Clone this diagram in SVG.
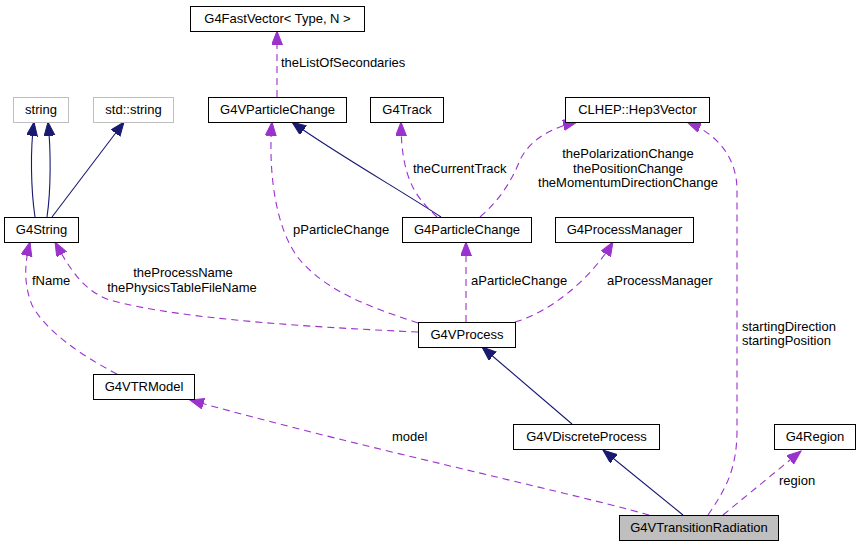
<svg xmlns="http://www.w3.org/2000/svg" width="860" height="547" viewBox="0 0 860 547">
<style>
text{font-family:"Liberation Sans",Arial,sans-serif;font-size:13px;fill:#000}
.nt{text-anchor:middle}
.box{fill:#fff;stroke:#000;stroke-width:1}
.gbox{fill:#fff;stroke:#bfbfbf;stroke-width:1}
.cur{fill:#bfbfbf;stroke:#000;stroke-width:1}
.inh{fill:none;stroke:#191970;stroke-width:1.1;marker-end:url(#an)}
.use{fill:none;stroke:#9a32cd;stroke-width:1.1;stroke-dasharray:7,5;marker-end:url(#ap)}
</style>
<defs>
<marker id="an" markerUnits="userSpaceOnUse" markerWidth="15" markerHeight="12" refX="14" refY="5.5" orient="auto"><polygon points="0,0 14,5.5 0,11" fill="#191970" stroke="#191970"/></marker>
<marker id="ap" markerUnits="userSpaceOnUse" markerWidth="15" markerHeight="12" refX="14" refY="5.5" orient="auto"><polygon points="0,0 14,5.5 0,11" fill="#9a32cd" stroke="#9a32cd"/></marker>
</defs>
<rect width="860" height="547" fill="#fff"/>
<g id="edges">
<path class="inh" d="M35,217 C31,190 30,150 34,122"/>
<path class="inh" d="M47,217 C51,190 51,150 48,122"/>
<path class="inh" d="M52,217 L124,122"/>
<path class="inh" d="M441,217 C410,196 330,150 292,122"/>
<path class="use" d="M277,97 L277,31"/>
<path class="use" d="M437,217 C420,200 401,185 401,122"/>
<path class="use" d="M480,217 C500,200 512,180 520,160 C530,140 550,128 577,122"/>
<path class="use" d="M418,323 C380,310 330,295 300,260 C275,230 268,170 272,122"/>
<path class="use" d="M418,332 C330,328 180,320 110,300 C85,292 70,270 55,242"/>
<path class="use" d="M117,374 C80,355 45,330 32,305 C24,285 24,265 30,242"/>
<path class="use" d="M466,322 L466,242"/>
<path class="use" d="M515,322 C550,312 590,280 613,242"/>
<path class="inh" d="M572,424 L482,347"/>
<path class="inh" d="M683,515 L603,450"/>
<path class="use" d="M708,515 C725,490 737,470 737,430 L737,190 C737,160 720,135 687,122"/>
<path class="use" d="M723,515 L801,451"/>
<path class="use" d="M649,515 C560,490 350,445 190,400"/>
<text x="281" y="66.5">theListOfSecondaries</text>
<text x="413" y="173">theCurrentTrack</text>
<text class="nt" x="628" y="158">thePolarizationChange</text>
<text class="nt" x="628" y="172.5">thePositionChange</text>
<text class="nt" x="628" y="186.5">theMomentumDirectionChange</text>
<text x="293" y="233.5">pParticleChange</text>
<text class="nt" x="183" y="276.5">theProcessName</text>
<text class="nt" x="182" y="291.5">thePhysicsTableFileName</text>
<text x="32" y="284.5">fName</text>
<text x="471" y="285">aParticleChange</text>
<text x="607" y="285">aProcessManager</text>
<text x="742" y="330.5">startingDirection</text>
<text x="742" y="344.5">startingPosition</text>
<text x="392" y="440.5">model</text>
<text x="779" y="485">region</text>
</g>
<g id="n_fastvector"><rect class="box" x="190.5" y="6.5" width="174" height="25"/><text class="nt" x="277.5" y="23">G4FastVector&lt; Type, N &gt;</text></g>
<g id="n_string"><rect class="gbox" x="13.5" y="97.5" width="55" height="25"/><text class="nt" x="41" y="114">string</text></g>
<g id="n_stdstring"><rect class="gbox" x="93.5" y="97.5" width="80" height="25"/><text class="nt" x="133.5" y="114">std::string</text></g>
<g id="n_vparticlechange"><rect class="box" x="208.5" y="97.5" width="138" height="25"/><text class="nt" x="277.5" y="114">G4VParticleChange</text></g>
<g id="n_track"><rect class="box" x="370.5" y="97.5" width="73" height="25"/><text class="nt" x="407" y="114">G4Track</text></g>
<g id="n_hep3vector"><rect class="box" x="565.5" y="97.5" width="144" height="25"/><text class="nt" x="637.5" y="114">CLHEP::Hep3Vector</text></g>
<g id="n_g4string"><rect class="box" x="4.5" y="217.5" width="74" height="25"/><text class="nt" x="41.5" y="234">G4String</text></g>
<g id="n_particlechange"><rect class="box" x="402.5" y="217.5" width="129" height="25"/><text class="nt" x="467" y="234">G4ParticleChange</text></g>
<g id="n_processmanager"><rect class="box" x="555.5" y="217.5" width="138" height="25"/><text class="nt" x="624.5" y="234">G4ProcessManager</text></g>
<g id="n_vprocess"><rect class="box" x="418.5" y="322.5" width="97" height="25"/><text class="nt" x="467" y="339">G4VProcess</text></g>
<g id="n_vtrmodel"><rect class="box" x="93.5" y="374.5" width="101" height="25"/><text class="nt" x="144" y="391">G4VTRModel</text></g>
<g id="n_vdiscreteprocess"><rect class="box" x="513.5" y="424.5" width="146" height="25"/><text class="nt" x="586.5" y="441">G4VDiscreteProcess</text></g>
<g id="n_region"><rect class="box" x="774.5" y="424.5" width="81" height="25"/><text class="nt" x="815" y="441">G4Region</text></g>
<g id="n_vtransitionradiation"><rect class="cur" x="619.5" y="515.5" width="159" height="25"/><text class="nt" x="699" y="532">G4VTransitionRadiation</text></g>
</svg>
